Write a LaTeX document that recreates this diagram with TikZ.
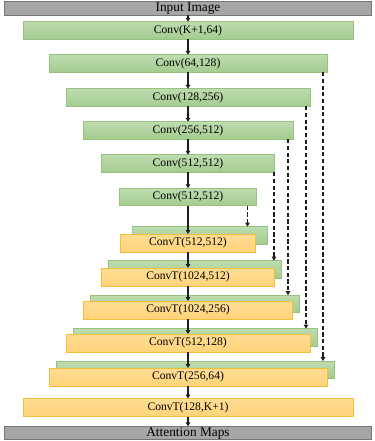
\documentclass[tikz,border=0pt]{standalone}
\usepackage{fontspec}
\setmainfont{Liberation Serif}
\usepackage{tikz}
\usetikzlibrary{calc,arrows.meta,positioning}
\definecolor{encGreenTop}{RGB}{190,220,175}
\definecolor{encGreenBot}{RGB}{163,204,143}
\definecolor{encGreenEdge}{RGB}{150,196,128}
\definecolor{decOrangeTop}{RGB}{255,221,148}
\definecolor{decOrangeBot}{RGB}{255,211,122}
\definecolor{decOrangeEdge}{RGB}{244,190,60}
\definecolor{ioGray}{RGB}{166,166,166}
\definecolor{ioGrayEdge}{RGB}{118,118,118}
\definecolor{linkDark}{RGB}{30,30,30}

\begin{document}
\begin{tikzpicture}[x=0.75pt,y=-0.75pt,
  encblock/.style={draw=encGreenEdge, line width=0.6pt, top color=encGreenTop, bottom color=encGreenBot,
    minimum height=13.1pt, inner sep=0pt, outer sep=0pt, font=\fontsize{8.7}{9}\selectfont},
  skipblock/.style={encblock, minimum height=13.3pt},
  decblock/.style={draw=decOrangeEdge, line width=0.6pt, top color=decOrangeTop, bottom color=decOrangeBot,
    minimum height=13.5pt, inner sep=0pt, outer sep=0pt, font=\fontsize{8.7}{9}\selectfont},
  iobar/.style={draw=ioGrayEdge, line width=0.8pt, fill=ioGray, minimum width=275pt,
    minimum height=10pt, inner sep=0pt, outer sep=0pt, text height=7pt, text depth=2pt,
    font=\fontsize{10}{10}\selectfont},
  flow/.style={linkDark, line width=0.8pt, -{Triangle[length=3pt,width=3.4pt]}},
  skiplink/.style={linkDark, line width=0.9pt, dash pattern=on 3.2pt off 1.8pt, -{Triangle[length=3pt,width=3.4pt]}}]
\useasboundingbox (0,0) rectangle (374,441);

\node[iobar] (input) at (188,8.5) {Input Image};

% encoder
\foreach \n/\y/\w/\t in {1/30.5/330/{Conv(K+1,64)},2/63.5/278/{Conv(64,128)},3/97.5/244/{Conv(128,256)},
  4/130.5/210/{Conv(256,512)},5/163.5/173/{Conv(512,512)},6/197/137/{Conv(512,512)}}
  \node[encblock, minimum width={\w*0.75pt}] (enc\n) at (188,\y) {\t};

% decoder, with the copied feature map behind each block
\foreach \n/\gx/\gy/\y/\w/\t in {1/200/235.5/243/135/{ConvT(512,512)},2/195/269.5/277/173/{ConvT(1024,512)},
  3/194.5/304/310/209/{ConvT(1024,256)},4/195/337.5/343/244/{ConvT(512,128)},5/195/370/377/278/{ConvT(256,64)}}{
  \node[skipblock, minimum width={\w*0.75pt}] (skip\n) at (\gx,\gy) {};
  \node[decblock, minimum width={\w*0.75pt}] (dec\n) at (188,\y) {\t};
}
\node[decblock, minimum width=247.5pt] (dec6) at (188,407.5) {ConvT(128,K+1)};

\node[iobar] (output) at (188,433) {Attention Maps};

\foreach \a/\b in {input/enc1,enc1/enc2,enc2/enc3,enc3/enc4,enc4/enc5,enc5/enc6,enc6/dec1,
  dec1/dec2,dec2/dec3,dec3/dec4,dec4/dec5,dec5/dec6,dec6/output}
  \draw[flow] (\a.south) -- (\b.north);

% skip connections
\foreach \e/\s/\dx in {enc6/skip1/-9,enc5/skip2/-0.5,enc4/skip3/-5,enc3/skip4/-4,enc2/skip5/-4}{
  \coordinate (from\s) at ($(\e.south east)+(\dx,0)$);
  \draw[skiplink] (from\s) -- (from\s |- \s.north);
}
\end{tikzpicture}
\end{document}
